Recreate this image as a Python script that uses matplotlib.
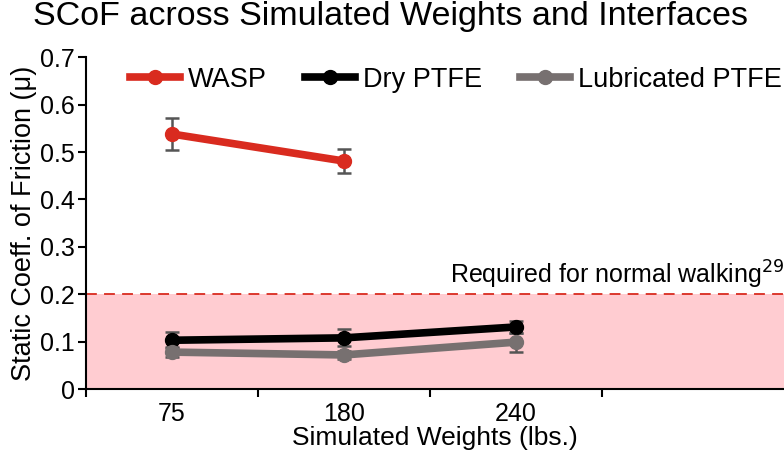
import matplotlib
matplotlib.use("Agg")
import matplotlib.pyplot as plt
import numpy as np

plt.rcParams["font.family"] = ["Liberation Sans", "DejaVu Sans"]

weights = ["75", "180", "240"]
wasp_mean = [0.538, 0.481]
wasp_err = [0.033, 0.026]
dry_mean = [0.103, 0.108, 0.131]
dry_err = [0.017, 0.018, 0.012]
lub_mean = [0.078, 0.072, 0.099]
lub_err = [0.010, 0.008, 0.020]
required_mu = 0.2

series = [
	("WASP", wasp_mean, wasp_err, "#d92b1f"),
	("Dry PTFE", dry_mean, dry_err, "#000000"),
	("Lubricated PTFE", lub_mean, lub_err, "#777070"),
]

fig = plt.figure(figsize=(7.84, 4.54), dpi=100)
ax = fig.add_axes([0.1097, 0.143, 0.8903, 0.731])

x = np.arange(len(weights)) + 0.5
ax.axhspan(0, required_mu, color="#ffccd1", zorder=0, lw=0)
ax.axhline(required_mu, color="#d92b1f", ls=(0, (6, 4)), lw=1.3, zorder=1)
ax.text(4.06, required_mu + 0.006, "Required for normal walking$^{29}$",
	ha="right", va="bottom", fontsize=18)

for name, mean, err, color in series:
	xs = x[:len(mean)]
	ax.errorbar(xs, mean, yerr=err, fmt="none", ecolor="#555555", elinewidth=1.8,
		capsize=5, capthick=1.8, zorder=2)
	ax.plot(xs, mean, "-o", color=color, lw=5.5, ms=10, label=name, zorder=3)

ax.set_xlim(0, 4.06)
ax.set_ylim(0, 0.7)
ax.set_yticks(np.arange(0, 0.71, 0.1))
ax.set_yticklabels(["0"] + [f"{v:.1f}" for v in np.arange(0.1, 0.71, 0.1)])
ax.set_xticks(x)
ax.set_xticklabels(weights)
ax.set_xticks(np.arange(0, 4), minor=True)
ax.tick_params(axis="x", which="major", length=0, labelsize=18, pad=9)
ax.tick_params(axis="x", which="minor", length=6, width=1.5)
ax.tick_params(axis="y", length=6, width=1.5, labelsize=18, pad=2)
for side in ["top", "right"]:
	ax.spines[side].set_visible(False)
for side in ["left", "bottom"]:
	ax.spines[side].set_linewidth(1.5)

ax.set_xlabel("Simulated Weights (lbs.)", fontsize=19, labelpad=0)
ax.set_ylabel("Static Coeff. of Friction (\u03bc)", fontsize=19.5, labelpad=2)
ax.legend(loc="upper left", bbox_to_anchor=(0.028, 1.045), ncol=3, frameon=False,
	fontsize=19.5, handlelength=1.85, columnspacing=1.4, handletextpad=0.3)
fig.text(0.042, 0.997, "SCoF across Simulated Weights and Interfaces", ha="left", va="top",
	fontsize=24.5)

fig.savefig("out.png", dpi=100)
